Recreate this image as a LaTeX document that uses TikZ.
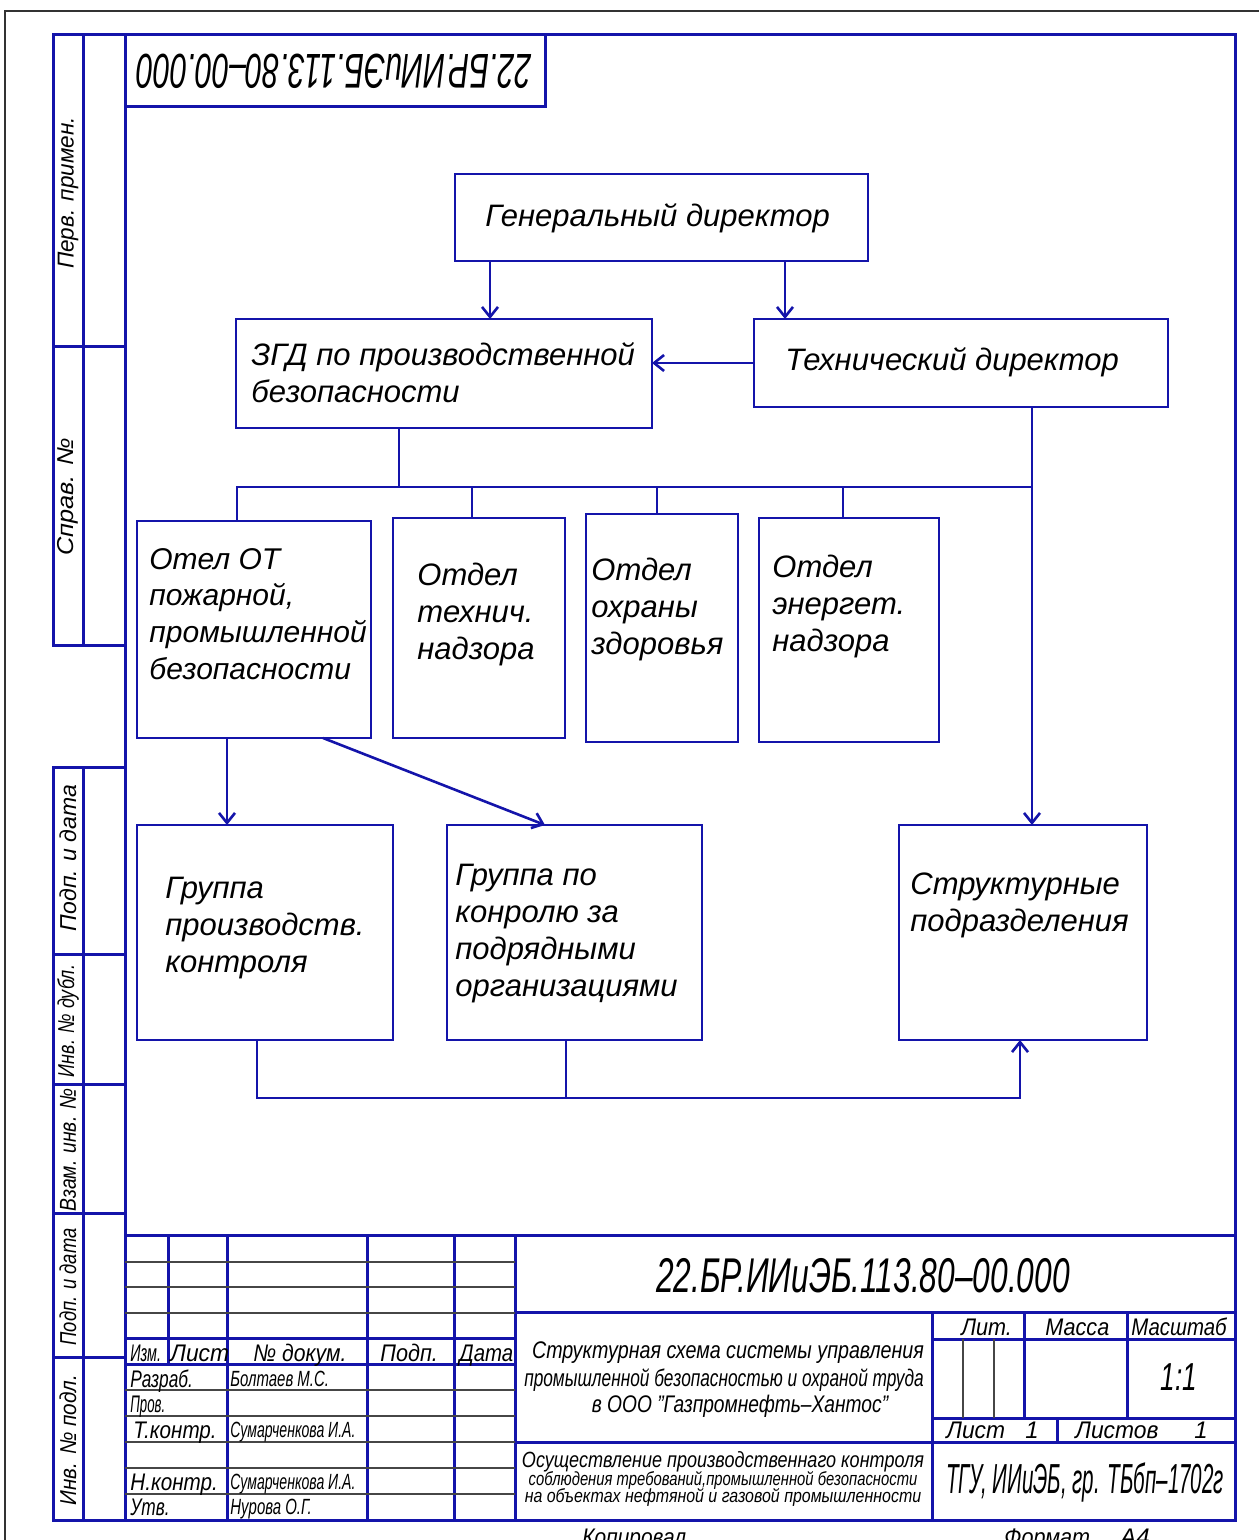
\documentclass[tikz,border=0pt]{standalone}
\usepackage{fontspec}
\usepackage{graphicx}
\setmainfont{Liberation Sans}
\usetikzlibrary{arrows.meta,calc}
\definecolor{frameblue}{RGB}{20,20,170}
\definecolor{thingray}{RGB}{70,70,70}
% horizontal squeeze of a text, height kept
\newcommand\xsq[2]{\scalebox{#1}[1]{#2}}
% rectangle node from its corners: name, x1, y1, x2, y2
\newcommand\orgbox[5]{\node[orgnode, minimum width={(#4-#2)*0.5pt}, minimum height={(#5-#3)*0.5pt}] (#1) at ({(#2+#4)/2},{(#3+#5)/2}) {};}
\begin{document}
\begin{tikzpicture}[x=0.5pt,y=-0.5pt,
  orgnode/.style={draw=frameblue, line width=1.3pt, inner sep=0, outer sep=0},
  wire/.style={draw=frameblue, line width=1.3pt},
  arr/.style={wire, -{Straight Barb[length=5pt,width=8pt]}},
  frm/.style={draw=frameblue, line width=1.5pt},
  thinrule/.style={draw=thingray, line width=0.6pt},
  lbl/.style={inner sep=0, anchor=north west, align=left, font=\itshape\fontsize{15.5}{18.5}\selectfont},
  tb/.style={inner sep=0, anchor=base west, font=\itshape\fontsize{12}{14}\selectfont},
  tbc/.style={tb, anchor=base},
  nm/.style={tb, font=\itshape\fontsize{11}{13}\selectfont},
  side/.style={inner sep=0, rotate=90, font=\itshape\fontsize{11.5}{13}\selectfont}
]
\useasboundingbox (0,0) rectangle (1259,1540);

% sheet edge
\draw[black!80, line width=0.8pt] (5,1540) -- (5,11) -- (1259,11);

% ---------- drawing frame ----------
\draw[frm] (125,35) rectangle (1235,1520);
% upper side strip
\draw[frm] (125,35) -- (53,35) -- (53,645) -- (125,645);
\draw[frm] (83,35) -- (83,645);
\draw[frm] (53,347) -- (125,347);
% lower side strip
\draw[frm] (125,767) -- (53,767) -- (53,1520) -- (125,1520);
\draw[frm] (83,767) -- (83,1520);
\foreach \y in {954,1084,1213,1357} \draw[frm] (53,\y) -- (125,\y);
% upside-down designation box
\draw[frm] (125,107) -- (545,107) -- (545,35);

% side strip labels
\node[side] (s1) at (68,193) {\xsq{0.98}{Перв. примен.}};
\node[side] (s2) at (68,497) {\xsq{1.1}{Справ. №}};
\node[side] (s3) at (68,858) {\xsq{1.0}{Подп. и дата}};
\node[side] (s4) at (68,1021) {\xsq{0.78}{Инв. № дубл.}};
\node[side] (s5) at (68,1150) {\xsq{0.84}{Взам. инв. №}};
\node[side] (s6) at (68,1287) {\xsq{0.8}{Подп. и дата}};
\node[side] (s7) at (68,1440) {\xsq{0.9}{Инв. № подл.}};

\node[inner sep=0, rotate=180, font=\itshape\fontsize{24.4}{26}\selectfont] (topdes) at (334,71) {\xsq{0.62}{22.БР.ИИиЭБ.113.80–00.000}};

% ---------- title block ----------
\draw[frm] (125,1235) -- (1235,1235);
\draw[frm] (168,1235) -- (168,1364);
\foreach \x in {227,367,454,515} \draw[frm] (\x,1235) -- (\x,1520);
\foreach \y in {1262,1287,1313,1390,1416,1442,1468,1494} \draw[thinrule] (125,\y) -- (515,\y);
\foreach \y in {1338,1364} \draw[frm] (125,\y) -- (515,\y);
\draw[frm] (515,1312) -- (1235,1312);
\draw[frm] (515,1442) -- (1235,1442);
\draw[frm] (932,1312) -- (932,1520);
\draw[frm] (932,1339) -- (1235,1339);
\draw[frm] (932,1418) -- (1235,1418);
\draw[frm] (1024,1312) -- (1024,1418);
\draw[frm] (1127,1312) -- (1127,1418);
\draw[frm] (1057,1418) -- (1057,1442);
\draw[thinrule] (963,1339) -- (963,1418);
\draw[thinrule] (994,1339) -- (994,1418);

\node[tb] (h1) at (130,1361) {\xsq{0.6}{Изм.}};
\node[tb] (h2) at (170,1361) {\xsq{0.95}{Лист}};
\node[tb] (h3) at (253,1361) {\xsq{0.88}{№ докум.}};
\node[tb] (h4) at (380,1361) {\xsq{0.9}{Подп.}};
\node[tb] (h5) at (459,1361) {\xsq{0.85}{Дата}};
\node[tb] (r1) at (130,1387) {\xsq{0.72}{Разраб.}};
\node[tb] (r2) at (130,1412) {\xsq{0.55}{Пров.}};
\node[tb] (r3) at (133,1438) {\xsq{0.86}{Т.контр.}};
\node[tb] (r4) at (130,1490) {\xsq{0.86}{Н.контр.}};
\node[tb] (r5) at (130,1515) {\xsq{0.72}{Утв.}};
\node[nm] (n1) at (230,1386) {\xsq{0.68}{Болтаев М.С.}};
\node[nm] (n2) at (230,1437) {\xsq{0.64}{Сумарченкова И.А.}};
\node[nm] (n3) at (230,1489) {\xsq{0.64}{Сумарченкова И.А.}};
\node[nm] (n4) at (230,1514) {\xsq{0.68}{Нурова О.Г.}};

\node[tbc, font=\itshape\fontsize{24.4}{26}\selectfont] (des) at (863,1292) {\xsq{0.65}{22.БР.ИИиЭБ.113.80–00.000}};
\node[tbc] (t1) at (728,1358) {\xsq{0.82}{Структурная схема системы управления}};
\node[tbc] (t2) at (724,1386) {\xsq{0.72}{промышленной безопасностью и охраной труда}};
\node[tbc] (t3) at (740,1412) {\xsq{0.8}{в ООО "Газпромнефть–Хантос"}};
\node[tbc, font=\itshape\fontsize{11}{13}\selectfont] (u1) at (723,1467) {\xsq{0.82}{Осуществление производственнаго контроля}};
\node[tbc, font=\itshape\fontsize{9.5}{11}\selectfont] (u2) at (723,1485) {\xsq{0.78}{соблюдения требований,промышленной безопасности}};
\node[tbc, font=\itshape\fontsize{9.5}{11}\selectfont] (u3) at (723,1502) {\xsq{0.84}{на объектах нефтяной и газовой промышленности}};
\node[tb] (l1) at (961,1335) {\xsq{0.9}{Лит.}};
\node[tb] (l2) at (1045,1335) {\xsq{0.9}{Масса}};
\node[tb] (l3) at (1131,1335) {\xsq{0.85}{Масштаб}};
\node[tbc, font=\itshape\fontsize{19.5}{21}\selectfont] (sc) at (1179,1390) {\xsq{0.67}{1:1}};
\node[tb] (l4) at (946,1438) {\xsq{0.95}{Лист}};
\node[tbc] (l5) at (1032,1438) {1};
\node[tb] (l6) at (1075,1438) {\xsq{0.95}{Листов}};
\node[tbc] (l7) at (1201,1438) {1};
\node[tbc, font=\itshape\fontsize{21}{23}\selectfont] (org) at (1085,1493) {\xsq{0.49}{ТГУ, ИИиЭБ, гр. ТБбп–1702г}};
\node[tb] (f1) at (582,1545) {\xsq{0.87}{Копировал}};
\node[tb] (f2) at (1004,1545) {\xsq{0.9}{Формат}};
\node[tb] (f3) at (1120,1545) {А4};

% ---------- organisation chart ----------
\orgbox{gen}{455}{174}{868}{261}
\orgbox{zgd}{236}{319}{652}{428}
\orgbox{tech}{754}{319}{1168}{407}
\orgbox{otel}{137}{521}{371}{738}
\orgbox{tn}{393}{518}{565}{738}
\orgbox{oz}{586}{514}{738}{742}
\orgbox{en}{759}{518}{939}{742}
\orgbox{gpr}{137}{825}{393}{1040}
\orgbox{gkon}{447}{825}{702}{1040}
\orgbox{struct}{899}{825}{1147}{1040}

\node[lbl] (genT) at (485,203) {Генеральный директор};
\node[lbl] (zgdT) at (251,342) {ЗГД по производственной\\безопасности};
\node[lbl] (techT) at (785,347) {Технический директор};
\node[lbl, font=\itshape\fontsize{15}{18.3}\selectfont] (otelT) at (149,548) {Отел ОТ\\пожарной,\\промышленной\\безопасности};
\node[lbl] (tnT) at (417,563) {Отдел\\технич.\\надзора};
\node[lbl] (ozT) at (591,558) {Отдел\\охраны\\здоровья};
\node[lbl] (enT) at (772,555) {Отдел\\энергет.\\надзора};
\node[lbl] (gprT) at (165,877) {Группа\\производств.\\контроля};
\node[lbl] (gkonT) at (455,864) {Группа по\\конролю за\\подрядными\\организациями};
\node[lbl] (structT) at (910,872) {Структурные\\подразделения};

% connector positions
\coordinate (cA) at (490,0);
\coordinate (cB) at (785,0);
\coordinate (cZ) at (399,0);
\coordinate (busL) at (237,487);
\coordinate (busR) at (1032,487);
\coordinate (d1) at (472,0);
\coordinate (d2) at (657,0);
\coordinate (d3) at (843,0);
\coordinate (cP) at (227,0);
\coordinate (cQ) at (323,0);
\coordinate (cK) at (545,0);
\coordinate (bL) at (257,1098);
\coordinate (bR) at (1020,1098);
\coordinate (cM) at (566,0);

\draw[arr] (gen.south -| cA) -- (zgd.north -| cA);
\draw[arr] (gen.south -| cB) -- (tech.north -| cB);
\draw[arr] (tech.west) -- (tech.west -| zgd.east);
\draw[wire] (zgd.south -| cZ) -- (cZ |- busL);
\draw[wire] (otel.north -| busL) -- (busL) -- (busR);
\draw[wire] (busL -| d1) -- (tn.north -| d1);
\draw[wire] (busL -| d2) -- (oz.north -| d2);
\draw[wire] (busL -| d3) -- (en.north -| d3);
\draw[arr] (tech.south -| busR) -- (struct.north -| busR);
\draw[arr] (otel.south -| cP) -- (gpr.north -| cP);
\draw[arr] (otel.south -| cQ) -- (gkon.north -| cK);
\draw[arr] (gpr.south -| bL) -- (bL) -- (bR) -- (struct.south -| bR);
\draw[wire] (gkon.south -| cM) -- (cM |- bL);
\end{tikzpicture}
\end{document}
